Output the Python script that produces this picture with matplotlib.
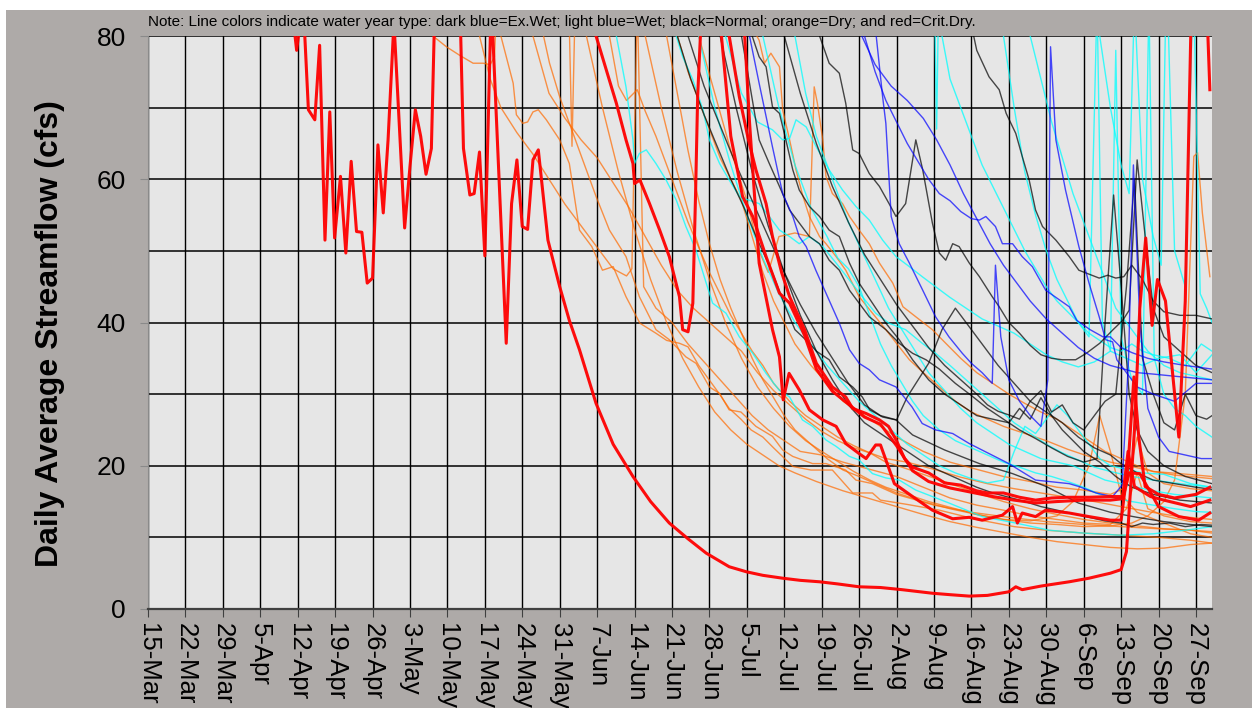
import matplotlib
matplotlib.use("Agg")
import matplotlib.pyplot as plt
from matplotlib.patches import Rectangle

# x = days after 15-Mar, y = daily average streamflow (cfs); values above 80 run off the top
tick_labels = ["15-Mar", "22-Mar", "29-Mar", "5-Apr", "12-Apr", "19-Apr", "26-Apr",
               "3-May", "10-May", "17-May", "24-May", "31-May", "7-Jun", "14-Jun",
               "21-Jun", "28-Jun", "5-Jul", "12-Jul", "19-Jul", "26-Jul", "2-Aug",
               "9-Aug", "16-Aug", "23-Aug", "30-Aug", "6-Sep", "13-Sep", "20-Sep", "27-Sep"]
tick_days = [7 * i for i in range(len(tick_labels))]

# ---- critically dry years (red)
crit_1_days = [26, 27.8, 29, 30, 31.2, 32.1, 33.1, 34, 34.9, 36, 37, 38, 39, 40, 41, 42, 43, 44,
               44.9, 46, 48, 49, 50, 51, 52, 53, 54, 58, 59, 60.2, 61, 62, 63, 64.2, 67, 68, 69,
               70, 71, 72, 73, 74.8, 77, 78.8, 80.7, 83.8, 87, 90.7, 94, 97.5, 101, 104.4, 108.7,
               111.9, 115, 118.7, 122, 125.6, 129, 133, 137, 141, 146.7, 150, 153.6, 157, 161,
               162.3, 163.5, 167, 172.3, 176, 180, 182, 183, 184.5, 185.5, 186.6, 187.8, 188.8,
               190.3, 192.8, 194, 195.3, 197.5, 198.6]
crit_1_flow = [90, 78, 85, 69.7, 68.3, 78.7, 51.5, 69.4, 51.8, 60.4, 49.7, 62.5, 52.7, 52.6, 45.5,
               46.2, 64.8, 55.3, 65.5, 82, 53.2, 61.8, 69.7, 66, 60.7, 64.3, 95, 95, 64.3, 57.8,
               58, 63.8, 49.3, 85, 37.1, 56.6, 62.7, 53.4, 53, 62.7, 64.1, 51.5, 45, 40.3, 36.2,
               28.7, 23, 18.5, 15, 12, 9.8, 7.8, 5.9, 5.2, 4.7, 4.3, 4.0, 3.8, 3.5, 3.1, 3.0,
               2.7, 2.2, 2.0, 1.8, 1.9, 2.4, 3.1, 2.7, 3.2, 3.8, 4.3, 5.0, 5.5, 8, 25, 42, 51.8,
               39.6, 46, 43, 24, 43, 90, 95, 72.5]
crit_2_days = [82.5, 83.8, 85.7, 87.6, 89.4, 90.7, 91, 92, 93.8, 95.7, 97.5, 99.4, 100, 101,
               101.9, 102.4, 102.8, 103.8, 105.5, 107, 109, 111.2, 113.1, 115.6, 118.1, 120,
               122.8, 125, 128, 131, 134, 137, 140, 143, 146, 150, 154, 158, 162, 166, 170, 175,
               180, 182.3, 183.5, 185.5, 189, 192.8, 196.5, 198.6]
crit_2_flow = [86, 80, 75.3, 70.6, 65.5, 62.2, 59.4, 59.9, 56.6, 52.9, 49.2, 43.6, 39, 38.7, 42.7,
               57.6, 71.5, 88, 90, 82, 66, 57.6, 54.8, 49.2, 44.1, 42.7, 38.2, 33.5, 30.4, 28.6,
               26.8, 25.8, 22.8, 19.3, 17.8, 16.9, 16.3, 15.7, 15.2, 14.8, 15, 15.2, 15.2, 15.4,
               19, 18.9, 14.3, 12.9, 12.4, 13.4]
crit_3_days = [107, 108.7, 110.6, 112.3, 113.7, 115.6, 116.8, 118.5, 120, 122.8, 125, 128, 130.5,
               131.8, 134.3, 136.8, 138.5, 140, 141.5, 143, 146, 149, 152, 155, 157, 160, 163,
               166, 169, 172, 176, 180, 182.3, 183.3, 184.5, 187.5, 190, 195, 198.6]
crit_3_flow = [92, 80, 71.5, 65.5, 61.3, 56.6, 52, 47, 43.6, 39, 34.3, 31, 29.6, 28, 27.3, 26.4,
               25.5, 23.5, 21, 19.8, 19, 17.6, 17.3, 16.5, 16.2, 16.2, 15.6, 15.2, 15.5, 15.6,
               15.6, 15.7, 15.7, 22, 17.1, 15.7, 15.2, 14.3, 15.2]
crit_4_days = [111, 112.5, 114.3, 116.8, 118.1, 118.8, 119.9, 121.8, 123.7, 126.2, 128.7, 130.5,
               133, 134.3, 136.1, 137, 139.6, 143, 146.7, 150.5, 153.6, 156, 159.8, 161.7, 162.6,
               163.5, 166, 167.9, 172.3, 176, 180, 182, 183.3, 184.4, 185.3, 186.5, 189, 192,
               196, 198.6]
crit_4_flow = [88, 68, 48.3, 39, 35.2, 29.2, 32.9, 30.6, 27.8, 26.4, 25.5, 23.1, 21.7, 21, 22.9,
               22.9, 17.5, 15.7, 13.8, 12.6, 12.8, 12.4, 13.1, 14.3, 12, 13.4, 12.9, 13.8, 13.4,
               12.9, 12.4, 12.4, 20, 32.4, 24, 17.1, 16, 15.5, 16, 17]

# ---- dry years (orange)
dry_1_days = [50, 53.3, 55.8, 58.3, 60.8, 62.7, 64, 64.8, 65.3, 69, 72.8, 75.1, 77, 79.5, 81.3,
              83.8, 86.3, 89.4, 91.9, 95, 97.5, 100.6, 102.5, 105, 106.9, 108.7, 110.9, 113.7,
              116.8, 118.7, 120.6, 124.3, 126.8, 130.5, 132.4, 135.5, 140, 147, 154, 161, 168,
              175, 182, 189, 195, 199]
dry_1_flow = [90, 80, 78.5, 77.3, 76.2, 76.2, 76, 77.1, 86, 95, 84, 76.2, 71.5, 66.4, 62.7, 57.6,
              52.9, 49.2, 43.6, 39, 37.6, 35.2, 34.3, 31, 30.1, 27.8, 27.5, 25.5, 24.1, 22.2,
              21.3, 20.3, 20.3, 19.4, 18, 17.5, 16, 14.5, 13.5, 12.8, 12.2, 11.8, 11.5, 11.2, 11,
              10.8]
dry_2_days = [64, 66, 68.3, 68.9, 70.1, 71, 72, 73, 74.5, 77, 78.8, 80.7, 83, 85, 87, 89.4, 92,
              95, 97, 99.4, 101, 103, 106.9, 108.7, 110.9, 112.8, 115, 117, 120.6, 124, 128,
              131.8, 135.5, 137, 142, 148, 155, 162, 168, 175, 182, 189, 195, 199]
dry_2_flow = [90, 80, 73.4, 69, 67.8, 68, 69.4, 69.7, 68.3, 65.5, 62.2, 52.9, 50.6, 47.3, 47.8,
              43.6, 39.9, 38.5, 37.5, 37.1, 36.6, 34, 30, 28, 26.5, 25, 24, 22.5, 19.9, 19.4,
              19.4, 16.2, 16.2, 15.2, 14.6, 13.8, 12.5, 11.5, 11, 10.6, 10.3, 10, 9.6, 9.2]
dry_3_days = [84, 86.3, 88, 89.5, 91.5, 93, 95, 97, 99, 101, 103, 105, 107, 109, 111, 113, 115,
              117, 120, 123, 126, 129, 132, 135, 138, 142, 147, 152, 157, 162, 167, 172, 177,
              182, 187, 192, 199]
dry_3_flow = [88, 80, 73, 71, 72.5, 69.5, 66, 62, 58, 54, 50.5, 47, 44, 41, 38.5, 36, 34, 31.5,
              29, 27, 25.5, 24, 22.8, 21.8, 21, 20.5, 19.5, 18.4, 17.5, 16.8, 16.2, 15.6, 15,
              14.3, 13.6, 13, 12.5]
dry_4_days = [74, 78.6, 79.3, 80, 90, 97, 99, 101, 103, 105, 107, 109, 111, 113, 115, 117, 119,
              121, 124, 127, 130, 133, 136, 140, 145, 150, 155, 160, 165, 170, 175, 180, 183, 185,
              187, 190, 195, 199]
dry_4_flow = [95, 88, 64.6, 88, 95, 88, 80, 75, 71, 67, 63, 60, 57, 52, 47, 43, 40, 37, 34, 31.5,
              29, 27.5, 26, 24, 22, 20.5, 19.5, 18.5, 17.8, 17, 16.6, 16, 17, 24, 19, 17.5, 16.8,
              16.5]
dry_5_days = [70, 72, 75, 78, 81, 84, 87, 90, 93, 96, 99, 102, 105, 108, 111, 114, 117, 120, 123,
              126, 129, 132, 135, 138, 141, 145, 150, 155, 160, 165, 170, 175, 180, 185, 190,
              195, 199]
dry_5_flow = [90, 80, 72, 68.5, 65.5, 63, 59.5, 56, 52, 48, 44.5, 42, 40, 38, 36, 33, 30.5, 28.5,
              26.5, 24.8, 23.5, 22.5, 21.8, 20.5, 19.8, 18.8, 17.5, 16.2, 15, 14, 13.2, 12.5, 12,
              11.6, 11.2, 11, 10.6]
dry_6_days = [60, 62, 64, 66, 69, 72, 75, 78, 81, 84, 87, 89.5, 90.5, 91.5, 92.7, 95, 98, 101,
              104, 107, 110, 113, 116, 119, 122, 126, 130, 135, 140, 145, 150, 155, 160, 165, 170,
              175, 180, 183, 185, 187, 190, 195, 199]
dry_6_flow = [92, 80, 74, 70, 66.5, 63.5, 60, 56.5, 53.5, 50.5, 47.5, 46.5, 47.5, 85, 45, 42, 40,
              37, 34.5, 32, 29.5, 27, 25, 23.5, 22, 21.5, 20.5, 19.5, 18.5, 17, 15.5, 14.5, 13.8,
              13, 12.5, 12, 11.8, 14, 19, 14, 13, 12.2, 12]
dry_7_days = [108, 111, 114.3, 115.3, 116.5, 118.1, 118.7, 120, 121.2, 122.5, 123.7, 125.6, 126.8,
              128.7, 130.5, 133, 135.5, 138, 140.5, 142.4, 145, 148, 151, 154, 157, 160, 164, 168,
              172, 176, 180, 184, 188, 193, 199]
dry_7_flow = [92, 84, 79.4, 76.2, 77.6, 75.7, 69.7, 65.5, 61.3, 57.6, 54.8, 52, 51, 49.2, 47.3,
              43.6, 41.3, 39, 36.6, 34.8, 33, 31, 29, 27.5, 26.5, 25.5, 24.5, 23.5, 22.3, 21.3,
              20.5, 19.9, 19.2, 18.9, 18.5]
dry_8_days = [100, 103, 106, 109, 112, 114.3, 116, 118, 121, 123.7, 124.6, 125.2, 126.2, 126.8,
              128, 129.9, 131.2, 133, 134.9, 136.8, 139.3, 141.2, 143.6, 146.7, 149.2, 152, 155,
              158, 161, 164, 167, 170, 173, 176, 179, 182, 185, 188, 192, 199]
dry_8_flow = [90, 80, 72, 64, 57, 50, 47, 52, 52.5, 52, 72.9, 70.6, 65.5, 60.4, 58, 56.6, 54.8,
              52.9, 51, 48.3, 45.5, 42.2, 40.8, 39, 37.1, 35, 33, 31.5, 30, 28.7, 27.5, 26.5, 25,
              23.5, 22, 21, 20, 19.2, 18.7, 18.2]
dry_9_days = [95, 97, 99, 101, 103, 105, 107, 109, 111, 113, 115, 117, 119, 121, 124, 127, 130,
              133, 136, 140, 145, 150, 155, 160, 165, 170, 175, 180, 184, 187, 190, 192, 194,
              195.6, 196.3, 197.2, 198.6]
dry_9_flow = [90, 80, 72, 64, 57, 51, 46, 42, 38.5, 35, 32, 29.5, 27, 25, 23, 21, 19.4, 18.5,
              17.5, 16.2, 15, 14, 13.2, 12.5, 12, 11.8, 11.5, 11.6, 12, 13, 15, 18, 30, 63.2,
              63.7, 55.3, 46.4]
dry_10_days = [90, 93, 96, 99, 102, 105, 108, 111, 114, 117, 120, 123, 126, 129, 132, 135, 138,
               142, 146, 150, 155, 160, 165, 170, 173, 176, 178, 180, 182, 185, 190, 195, 199]
dry_10_flow = [92, 80, 70, 61, 53, 46, 40, 35, 31, 28, 25.5, 23.5, 22, 20.6, 19.2, 18, 17, 16, 15,
               14.2, 13.2, 12.5, 12.3, 13, 15, 20, 27, 22, 16, 13.5, 12, 10.5, 10]
dry_11_days = [80, 82, 85, 88, 91, 94, 97, 100, 103, 106, 109, 112, 115, 118, 121, 125, 130, 135,
               140, 145, 150, 155, 160, 165, 170, 175, 180, 185, 190, 195, 199]
dry_11_flow = [92, 80, 70, 61, 53, 46, 40, 35, 31, 27.5, 25, 23, 21.5, 20, 19, 17.8, 16.5, 15.4,
               14.3, 13.2, 12.2, 11.4, 10.7, 10, 9.4, 9, 8.6, 8.4, 8.5, 9, 9.2]

# ---- wet years (light blue)
wet_1_days = [85, 87.6, 89.4, 90.7, 91, 91.9, 93.2, 95, 96.9, 98.8, 100.6, 102.5, 104.4, 105.6,
              108.1, 110.6, 113.1, 115.6, 118, 120, 122.4, 124.3, 126.8, 128.7, 131.2, 133, 135.5,
              138, 140.5, 143.6, 149.8, 156, 162.3, 168.5, 175, 182, 188, 194, 199]
wet_1_flow = [90, 80, 72.9, 65.5, 62.2, 63.6, 64.1, 62.2, 59.9, 57.1, 53.4, 50.1, 45.5, 42.7,
              41.3, 38, 35.7, 32.9, 30.6, 29.6, 26.4, 25.5, 23.6, 22.7, 21.3, 20.8, 18.9, 18.3, 18,
              16.6, 14.8, 12.9, 12, 11, 10.6, 10.3, 10.5, 11, 11.5]
wet_2_days = [97, 98.8, 100, 101.9, 103.8, 105, 106.9, 108.7, 110.6, 112.3, 114.3, 116.2, 118.1,
              120, 121.8, 123.7, 126.2, 128.7, 131.2, 133.6, 136.1, 138.6, 141.7, 144.8, 147.3,
              150, 153, 156, 159, 162, 165, 168, 171, 174, 177, 180, 184, 188, 193, 199]
wet_2_flow = [90, 80, 77.1, 73.9, 69.7, 65.5, 62.2, 59.9, 57.6, 57.1, 56.6, 54.8, 52.9, 52, 51,
              52, 50.6, 48.3, 45.9, 43.6, 41.3, 39.9, 39, 37.1, 35.7, 34, 32, 30, 28, 26, 24.5, 23,
              21.8, 20.8, 19.8, 19.2, 18.5, 18, 17.5, 17]
wet_3_days = [105, 108, 111, 114, 116.8, 118.7, 120, 121.2, 123.1, 125, 127.4, 129.9, 132.4,
              134.9, 137.4, 139.9, 142.4, 144.8, 147.3, 150, 153, 156, 159, 162, 165, 168, 171,
              174, 177, 180, 183, 186, 189, 193, 196, 199]
wet_3_flow = [92, 80, 72, 68, 66.9, 65.5, 65.7, 68.3, 67.3, 64.5, 61.3, 58.5, 56.2, 54.3, 51.5,
              49.2, 47.8, 46.4, 45, 43.5, 42, 40.5, 39.5, 38.5, 37, 35.5, 34.5, 33.8, 34.5, 36, 35,
              34, 35, 35.5, 33, 35.5]
wet_4_days = [118, 121, 123, 125, 127, 129, 131, 133.5, 136, 138.5, 141, 143.5, 146, 149, 152,
              155, 158, 161, 164, 167, 170, 173, 176, 179, 182, 185, 188, 192, 199]
wet_4_flow = [92, 80, 72, 66, 62, 58, 54, 50, 46, 42, 39, 36, 33, 30.5, 28, 26, 24.5, 23, 22, 21,
              20.5, 20, 19, 18, 17.5, 17, 16.5, 16, 15.5]
wet_5_days = [130, 140, 147, 147.5, 148, 155, 162, 165, 167, 169, 171, 173, 175, 177, 179, 181,
              183, 185, 187, 190, 193, 196, 199]
wet_5_flow = [95, 92, 90, 67, 92, 95, 90, 80, 74, 68, 63, 58, 54, 50, 46, 42, 40, 38, 36, 34, 33,
              32.5, 32]
wet_6_days = [112, 115, 118, 121, 124, 127, 129, 131, 133, 135, 137, 139, 141, 143, 145, 148, 151,
              154, 157, 160, 163, 166, 169, 172, 175, 178, 181, 184, 188, 192, 196, 199]
wet_6_flow = [90, 80, 70, 62, 56, 52, 49, 47.5, 45, 41, 37, 34, 31.5, 29, 27, 25, 23.5, 22.5,
              21.5, 20.5, 19.8, 19, 18.5, 17.8, 17, 16, 15.5, 15, 14.5, 14, 13.6, 13.5]
wet_7_days = [100, 103, 106, 109, 112, 115, 118, 121, 124, 127, 130, 133, 136, 139, 142, 145, 148,
              151, 154, 157, 160, 162, 164, 166, 168, 170, 172, 174, 176, 178, 180, 183, 186, 190,
              195, 199]
wet_7_flow = [92, 80, 70, 62, 55, 49, 44, 40, 37, 34, 31.5, 29, 27, 25, 23, 21.5, 20, 19, 18.2,
              17.6, 18, 22, 25.5, 24.5, 26.5, 28.5, 27, 25, 23, 21, 20, 19.5, 19, 18.8, 17.5, 17]
wet_8_days = [150, 158, 160, 162, 164, 166, 168, 170, 172, 174, 176, 177.5, 178.5, 180, 181, 182,
              184, 186, 187.2, 188.2, 190, 192, 194, 196, 199]
wet_8_flow = [95, 92, 80, 70, 61, 55, 50, 46, 43, 40, 38, 85, 40, 36, 78, 38, 32, 30, 85, 35, 30,
              28, 27, 25.5, 24]
wet_9_days = [140, 146, 148.5, 150, 152, 154, 156, 158, 160, 162, 164, 166, 168, 170, 172, 174,
              176, 178, 180, 182, 184, 186, 188, 191, 194, 197, 199]
wet_9_flow = [95, 92, 80, 74, 70, 66, 62, 59, 56, 53, 50, 47.5, 45, 43, 41.5, 40, 38.5, 37.5,
              36.5, 36, 37, 36, 35.5, 35, 34, 37, 36]
wet_10_days = [165, 175, 178, 180, 182, 183.5, 184.5, 186, 188, 189.5, 190.5, 192, 194, 195.5,
               196.8, 198, 199]
wet_10_flow = [95, 92, 80, 70, 62, 58, 85, 60, 52, 48, 90, 50, 45, 88, 44, 42, 40]

# ---- normal years (black)
norm_1_days = [96, 99, 101.5, 104, 106.5, 109, 111.5, 114, 116.5, 119.3, 121, 123.7, 125, 127.4,
               129.3, 131.8, 133.6, 135, 137.4, 139.9, 143, 149, 155.5, 161.7, 168, 174, 180, 185,
               190, 195, 199]
norm_1_flow = [90, 80, 74, 69, 64.5, 60, 56, 51.5, 47.5, 42, 39, 37.1, 36, 34.8, 32.4, 31, 29.6,
               27.8, 26.8, 26.4, 24.3, 22.2, 20.3, 18.9, 17.1, 14.8, 13.5, 12.8, 12.2, 11.8, 11.5]
norm_2_days = [98, 101, 104, 107, 110, 113, 116, 119, 122, 125, 128, 131, 134, 137, 140, 142, 146,
               148.5, 151, 153, 156, 159, 162, 165, 168, 171, 174, 177, 180, 182, 185, 188, 192,
               196, 199]
norm_2_flow = [92, 80, 73, 67.5, 62, 57, 52, 47, 42.5, 38.5, 35, 31.5, 28.5, 27, 26.4, 29.6, 34.3,
               39, 42, 40, 37, 34, 31.5, 29, 27.5, 26, 24, 22.5, 21.5, 20.3, 19, 18, 17.5, 17, 16.7]
norm_3_days = [110, 113, 114.3, 115.6, 116.8, 118.1, 119.3, 120.6, 121.8, 123.7, 125.6, 127.4,
               129.3, 131.2, 133, 135.5, 138, 140.5, 143, 146, 149, 152, 155, 158, 161, 163, 165,
               167, 169, 171, 173, 175, 178, 181, 184, 188, 193, 199]
norm_3_flow = [92, 80, 77.1, 75.7, 70.1, 69.2, 65.5, 61.3, 58.5, 56.2, 54.8, 52.9, 52, 48.3,
               45.5, 42.7, 39.9, 37.6, 34.8, 32, 30, 28.5, 27, 26.5, 26, 28, 26.5, 29.5, 27, 25,
               23.5, 22, 20.5, 18.5, 17, 16, 15.2, 14.8]
norm_4_days = [108, 111, 114.3, 116.2, 118.1, 120, 121.8, 123.7, 125.6, 127.4, 129.3, 131.2, 133,
               134.9, 138, 140.5, 143, 145.5, 148, 151, 154, 157, 160, 163, 166, 169, 172, 175,
               177.5, 179, 180.6, 182, 183.5, 185, 187, 190, 194, 199]
norm_4_flow = [92, 80, 65.5, 62.2, 59, 55.7, 53.9, 52, 51, 48.7, 47.3, 44.5, 42.7, 40.8, 39, 37.1,
               35.7, 34.8, 33.5, 31.5, 29.8, 28, 26.5, 25, 23.8, 22.5, 21.3, 20.5, 21, 40, 57.8,
               45, 30, 25, 22, 20, 18.5, 17.5]
norm_5_days = [122, 125.6, 127.4, 129.3, 130.5, 131.8, 133, 134.9, 136.8, 138.6, 139.9, 141.7,
               143.6, 144.9, 146.7, 148, 149.2, 150.5, 151.7, 153.6, 155.5, 157.9, 159.2, 161, 163,
               165, 167, 169, 171, 173.5, 175.5, 178, 180.5, 182.3, 183.5, 185, 186.5, 188, 190,
               193, 196, 199]
norm_5_flow = [92, 80, 76.2, 74.8, 70.6, 64.1, 63.6, 60.8, 59, 56.6, 54.8, 56.6, 65.5, 61.3, 53.9,
               49.7, 48.7, 51, 50.6, 48.3, 46.4, 43.6, 42.2, 40, 38.5, 36.8, 35.5, 35, 34.8, 34.8,
               35.7, 37.1, 39, 40.3, 41.7, 62.7, 52, 42, 38, 36, 34, 33]
norm_6_days = [150, 153, 155, 157.3, 159.2, 160.5, 162.3, 163.5, 164.8, 166, 167.3, 169.8, 172.3,
               174.1, 177.9, 179.5, 181, 182.5, 184, 186, 188, 190, 193, 196, 199]
norm_6_flow = [95, 85, 78, 74.3, 72.5, 69.2, 66.4, 63.2, 59.9, 55.7, 53.4, 51.5, 49.2, 47.3, 46.2,
               46.6, 46.2, 46.4, 48, 46, 43, 41.5, 41, 41, 40.5]
norm_7_days = [104, 107, 110, 113, 116, 119, 122, 125, 128, 131, 134, 137, 140, 143, 146, 149,
               152, 155, 158, 161, 164, 167, 170, 173, 176, 179, 182, 184, 186, 188, 191, 194, 197,
               199]
norm_7_flow = [92, 80, 70, 61, 53.5, 47, 41, 36, 32, 28.5, 26, 24.5, 23, 21.5, 20, 19, 18, 17,
               16.2, 15.6, 15, 14.3, 13.8, 13.3, 12.8, 12.3, 12, 11.5, 12, 11.8, 12, 11.5, 11.8,
               11.7]
norm_8_days = [116, 119, 122, 125, 128, 131, 134, 137, 140, 143, 146, 149, 152, 155, 157, 159,
               161, 163, 165, 167, 169, 171, 173, 175, 177, 179, 181, 183, 184.5, 186, 188, 190,
               192, 194, 196, 198, 199]
norm_8_flow = [92, 80, 72, 65, 59, 54, 49.5, 46, 42.5, 39.5, 36.5, 34, 32, 30, 28.5, 27.6, 27.1,
               26.5, 29, 30.5, 27.5, 28.5, 26, 25, 27, 29, 30, 45, 60, 35, 30, 26, 25, 30, 27,
               26.5, 27]

# ---- extremely wet years (dark blue)
exwet_1_days = [108, 111, 112.5, 114.3, 116.8, 118.7, 120.6, 121.8, 123.1, 124.9, 126.8, 129.3,
                131.2, 133, 134.9, 136.8, 139.9, 142.9, 144.8, 147.3, 150.5, 153.6, 157.3, 161,
                166, 172.3, 174.1, 177.3, 180.4, 182.2, 183.4, 184.3, 185.5, 187, 189, 191, 194,
                197, 199]
exwet_1_flow = [95, 85, 80, 73.4, 64.5, 58, 54.8, 52, 50.6, 47.3, 44.1, 39.9, 36.2, 34.3, 33.4,
                32, 31, 28.2, 25.9, 25, 24.5, 23.1, 21.7, 20.3, 18, 17.5, 17.1, 16.2, 15.7, 17.3,
                35, 62, 40, 28, 24, 22, 21.5, 21, 21]
exwet_2_days = [130, 134, 136.2, 137.4, 138, 139, 140.5, 142.4, 144.9, 147.3, 149.8, 152.3, 154,
                156, 157.9, 158.5, 159.5, 161, 163, 165, 167, 168.3, 168.8, 169.8, 171.6, 174.1,
                176, 177.9, 179.1, 180.4, 181.2, 183, 185, 188, 192, 196, 199]
exwet_2_flow = [95, 88, 80, 71.5, 67.8, 54.8, 51, 48.3, 44.5, 40.8, 38, 35.7, 34.3, 33, 31.5, 48,
                38, 32, 29, 27, 25.5, 32, 78.5, 65.5, 58.5, 50.6, 45.5, 40.8, 37.6, 37.3, 34.8,
                33, 31, 30, 29, 31.5, 31.5]
exwet_3_days = [120, 130, 134, 136, 138, 140, 142, 144, 146, 148, 150, 152, 154, 155.5, 156.7,
                158.5, 159.8, 161.7, 163.5, 165.4, 167.9, 172.3, 173.7, 176.2, 178.6, 180, 182,
                184, 187, 190, 194, 199]
exwet_3_flow = [95, 92, 80, 75, 71, 68, 65, 62.5, 60, 58, 57, 55.5, 54.5, 54.3, 54.8, 53.4, 51,
                51, 49.2, 47.8, 44.5, 42.2, 40.3, 39, 38, 38, 36.5, 35.8, 35, 34.5, 34, 33.5]
exwet_4_days = [128, 132, 133.5, 136, 139, 142, 145, 147.5, 150, 152.5, 155, 157.5, 160, 162.5,
                165, 168, 171, 174, 177, 180, 182.5, 185, 188, 192, 199]
exwet_4_flow = [95, 85, 80, 76, 73, 71, 68.5, 65.5, 62, 58, 54.5, 51, 48, 45.5, 43, 40.5, 38.5,
                36.5, 35, 34, 33.5, 33, 32.8, 32.5, 32]

note_text = ("Note: Line colors indicate water year type: dark blue=Ex.Wet; light blue=Wet; "
             "black=Normal; orange=Dry; and red=Crit.Dry.")

series = [
    (dry_1_days, dry_1_flow, "dry"), (dry_2_days, dry_2_flow, "dry"),
    (dry_3_days, dry_3_flow, "dry"), (dry_4_days, dry_4_flow, "dry"),
    (dry_5_days, dry_5_flow, "dry"), (dry_6_days, dry_6_flow, "dry"),
    (dry_7_days, dry_7_flow, "dry"), (dry_8_days, dry_8_flow, "dry"),
    (dry_9_days, dry_9_flow, "dry"), (dry_10_days, dry_10_flow, "dry"),
    (dry_11_days, dry_11_flow, "dry"),
    (wet_1_days, wet_1_flow, "wet"), (wet_2_days, wet_2_flow, "wet"),
    (wet_3_days, wet_3_flow, "wet"), (wet_4_days, wet_4_flow, "wet"),
    (wet_5_days, wet_5_flow, "wet"), (wet_6_days, wet_6_flow, "wet"),
    (wet_7_days, wet_7_flow, "wet"), (wet_8_days, wet_8_flow, "wet"),
    (wet_9_days, wet_9_flow, "wet"), (wet_10_days, wet_10_flow, "wet"),
    (norm_1_days, norm_1_flow, "normal"), (norm_2_days, norm_2_flow, "normal"),
    (norm_3_days, norm_3_flow, "normal"), (norm_4_days, norm_4_flow, "normal"),
    (norm_5_days, norm_5_flow, "normal"), (norm_6_days, norm_6_flow, "normal"),
    (norm_7_days, norm_7_flow, "normal"), (norm_8_days, norm_8_flow, "normal"),
    (exwet_1_days, exwet_1_flow, "exwet"), (exwet_2_days, exwet_2_flow, "exwet"),
    (exwet_3_days, exwet_3_flow, "exwet"), (exwet_4_days, exwet_4_flow, "exwet"),
    (crit_1_days, crit_1_flow, "crit"), (crit_2_days, crit_2_flow, "crit"),
    (crit_3_days, crit_3_flow, "crit"), (crit_4_days, crit_4_flow, "crit"),
]

styles = {
    "dry": dict(color="#ff6a00", alpha=0.7, lw=1.0),
    "wet": dict(color="#00ffff", alpha=0.75, lw=1.0),
    "normal": dict(color="#000000", alpha=0.7, lw=1.0),
    "exwet": dict(color="#0000ff", alpha=0.7, lw=1.0),
    "crit": dict(color="#ff0000", alpha=0.95, lw=2.2),
}

plt.rcParams["font.family"] = ["Liberation Sans", "DejaVu Sans"]

fig = plt.figure(figsize=(12.52, 7.08), dpi=100)
fig.patch.set_facecolor("#aeaaa8")
fig.add_artist(Rectangle((0, 1 - 10 / 708), 1, 10 / 708, transform=fig.transFigure,
                         facecolor="white", edgecolor="none"))
fig.add_artist(Rectangle((0, 0), 6 / 1252, 1, transform=fig.transFigure,
                         facecolor="white", edgecolor="none"))

ax = fig.add_axes([148 / 1252, 99 / 708, 1064 / 1252, 573 / 708])
ax.set_facecolor("#e6e6e6")

for days, flow, kind in series:
    ax.plot(days, flow, **styles[kind])

ax.set_xlim(0, 199)
ax.set_ylim(0, 80)
ax.set_xticks(tick_days)
ax.set_xticklabels(tick_labels, rotation=270)
ax.set_yticks([0, 20, 40, 60, 80])
ax.set_yticks([10, 30, 50, 70], minor=True)
ax.set_axisbelow(True)
ax.grid(axis="x", color="black", lw=1.0)
ax.grid(axis="y", which="both", color="black", lw=1.1)

for side in ["top", "right"]:
    ax.spines[side].set_visible(False)
ax.spines["left"].set_color("#8a8a8a")
ax.spines["bottom"].set_color("#404040")
ax.spines["bottom"].set_linewidth(1.6)

ax.tick_params(axis="y", which="major", length=6, color="#8a8a8a", labelsize=19, pad=10)
ax.tick_params(axis="y", which="minor", length=0)
ax.tick_params(axis="x", length=6, color="#404040", labelsize=18.5, pad=4)

ax.set_ylabel("Daily Average Streamflow (cfs)", fontsize=23, fontweight="bold")
ax.yaxis.set_label_coords(-0.078, 0.481)

fig.text(148 / 1252, 1 - 22 / 708, note_text, fontsize=11, va="center", ha="left")

fig.savefig("out.png", dpi=100, facecolor=fig.get_facecolor())
